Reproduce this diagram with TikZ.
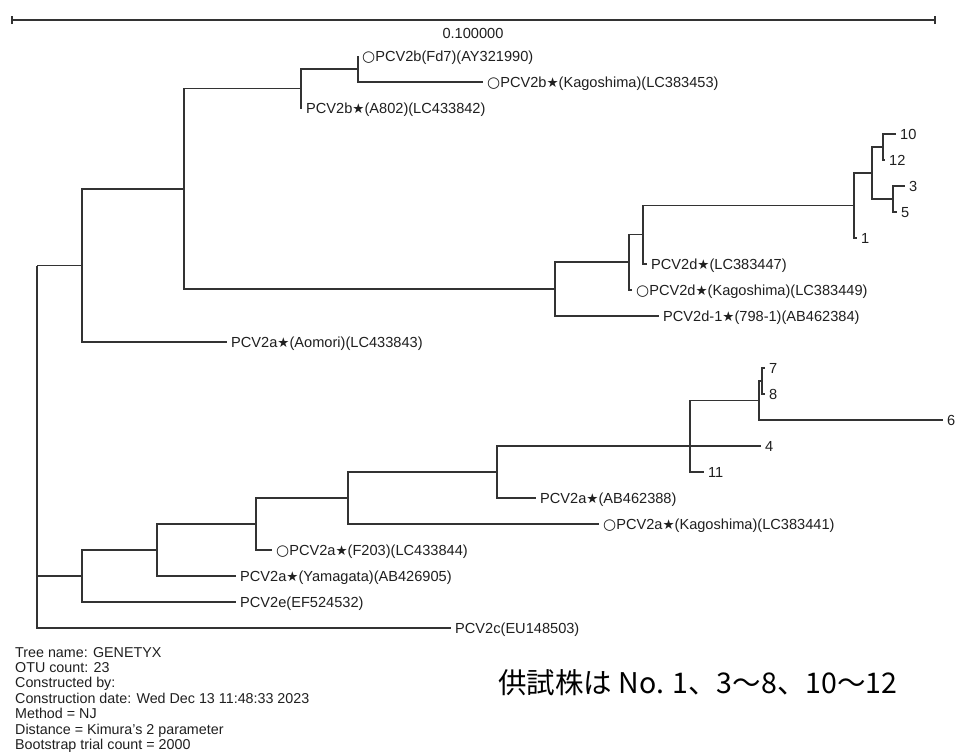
\documentclass[tikz,border=0pt]{standalone}
\usepackage{fontspec}
\setmainfont{Liberation Sans}
\newfontfamily\symf{DejaVu Sans}
\newfontfamily\jpf{Noto Sans CJK JP}
\newcommand\stR{{\symf\fontsize{13.5}{13.5}\selectfont ★}}
\newcommand\ciR{{\symf\fontsize{15}{15}\selectfont ○}}
\begin{document}
\begin{tikzpicture}[x=1pt,y=-1pt,
  br/.style={line width=1.1pt, draw=black!80},
  lbl/.style={anchor=west, inner xsep=4pt, inner ysep=0pt, text height=10pt, text depth=0pt,
    font=\fontsize{14.6}{16}\selectfont, text=black!88},
  info/.style={anchor=base west, inner sep=0pt, font=\fontsize{14.3}{16}\selectfont, text=black!88}]
\fill[white] (0,0) rectangle (958,753);
\useasboundingbox (0,0) rectangle (958,753);

% scale bar
\coordinate (sbL) at (12,20);
\coordinate (sbR) at (935,20);
\draw[br] (sbL) -- (sbR);
\draw[br] ([yshift=-4pt]sbL) -- ([yshift=4pt]sbL);
\draw[br] ([yshift=-4pt]sbR) -- ([yshift=4pt]sbR);
\node[lbl, anchor=center, inner xsep=0pt] (sbt) at (473,33) {0.100000};

% internal nodes
\coordinate (R) at (37,265.5);
\coordinate (U) at (82,265.5);
\coordinate (A) at (184,189);
\coordinate (B) at (301,88.5);
\coordinate (C) at (358,69);
\coordinate (D) at (555,289);
\coordinate (G) at (629,262);
\coordinate (E) at (643,234.5);
\coordinate (F) at (854,205.5);
\coordinate (H) at (872,173);
\coordinate (J) at (883,147);
\coordinate (Iq) at (893,199);
\coordinate (La) at (82,576);
\coordinate (Lb) at (157,550);
\coordinate (Lc) at (256,524);
\coordinate (Ld) at (348,498);
\coordinate (Le) at (497,472);
\coordinate (Lf) at (690,446);
\coordinate (Lg) at (759,400.5);
\coordinate (Lh) at (762,381);

% leaves
\node[lbl] (fd7) at (358,56) {\ciR PCV2b(Fd7)(AY321990)};
\node[lbl] (kgb) at (483,82) {\ciR PCV2b\stR(Kagoshima)(LC383453)};
\node[lbl] (a802) at (302,108) {PCV2b\stR(A802)(LC433842)};
\node[lbl] (n10) at (896,134) {10};
\node[lbl] (n12) at (885,160) {12};
\node[lbl] (n3) at (905,186) {3};
\node[lbl] (n5) at (897,212) {5};
\node[lbl] (n1) at (857,238) {1};
\node[lbl] (d447) at (647,264) {PCV2d\stR(LC383447)};
\node[lbl] (kgd) at (632,290) {\ciR PCV2d\stR(Kagoshima)(LC383449)};
\node[lbl] (d1) at (659,316) {PCV2d-1\stR(798-1)(AB462384)};
\node[lbl] (aom) at (227,342) {PCV2a\stR(Aomori)(LC433843)};
\node[lbl] (n7) at (765,368) {7};
\node[lbl] (n8) at (765,394) {8};
\node[lbl] (n6) at (943,420) {6};
\node[lbl] (n4) at (761,446) {4};
\node[lbl] (n11) at (704,472) {11};
\node[lbl] (ab388) at (536,498) {PCV2a\stR(AB462388)};
\node[lbl] (kga) at (599,524) {\ciR PCV2a\stR(Kagoshima)(LC383441)};
\node[lbl] (f203) at (272,550) {\ciR PCV2a\stR(F203)(LC433844)};
\node[lbl] (yam) at (236,576) {PCV2a\stR(Yamagata)(AB426905)};
\node[lbl] (p2e) at (236,602) {PCV2e(EF524532)};
\node[lbl] (p2c) at (451,628) {PCV2c(EU148503)};

% branches
\draw[br] (R) |- (U);   \draw[br] (R) |- (La);  \draw[br] (R) |- (p2c.west);
\draw[br] (U) |- (A);   \draw[br] (U) |- (aom.west);
\draw[br] (A) |- (B);   \draw[br] (A) |- (D);
\draw[br] (B) |- (C);   \draw[br] (B) |- (a802.west);
\draw[br] (C) |- (fd7.west); \draw[br] (C) |- (kgb.west);
\draw[br] (D) |- (G);   \draw[br] (D) |- (d1.west);
\draw[br] (G) |- (E);   \draw[br] (G) |- (kgd.west);
\draw[br] (E) |- (F);   \draw[br] (E) |- (d447.west);
\draw[br] (F) |- (H);   \draw[br] (F) |- (n1.west);
\draw[br] (H) |- (J);   \draw[br] (H) |- (Iq);
\draw[br] (J) |- (n10.west); \draw[br] (J) |- (n12.west);
\draw[br] (Iq) |- (n3.west); \draw[br] (Iq) |- (n5.west);
\draw[br] (La) |- (Lb); \draw[br] (La) |- (p2e.west);
\draw[br] (Lb) |- (Lc); \draw[br] (Lb) |- (yam.west);
\draw[br] (Lc) |- (Ld); \draw[br] (Lc) |- (f203.west);
\draw[br] (Ld) |- (Le); \draw[br] (Ld) |- (kga.west);
\draw[br] (Le) |- (Lf); \draw[br] (Le) |- (ab388.west);
\draw[br] (Lf) |- (Lg); \draw[br] (Lf) -- (n4.west); \draw[br] (Lf) |- (n11.west);
\draw[br] (Lg) |- (Lh); \draw[br] (Lg) |- (n6.west);
\draw[br] (Lh) |- (n7.west); \draw[br] (Lh) |- (n8.west);

% info text
\node[info] (t1) at (15,657) {Tree name: GENETYX};
\node[info] (t2) at (15,672) {OTU count: 23};
\node[info] (t3) at (15,687) {Constructed by:};
\node[info] (t4) at (15,703) {Construction date: Wed Dec 13 11:48:33 2023};
\node[info] (t5) at (15,718) {Method = NJ};
\node[info] (t6) at (15,734) {Distance = Kimura\char"27 s 2 parameter};
\node[info] (t7) at (15,749) {Bootstrap trial count = 2000};

\node[anchor=west, inner sep=0pt, font=\jpf\fontsize{28.5}{28.5}\selectfont, text=black] (note) at (498,683) {供試株は No. 1、3～8、10～12};
\end{tikzpicture}
\end{document}
